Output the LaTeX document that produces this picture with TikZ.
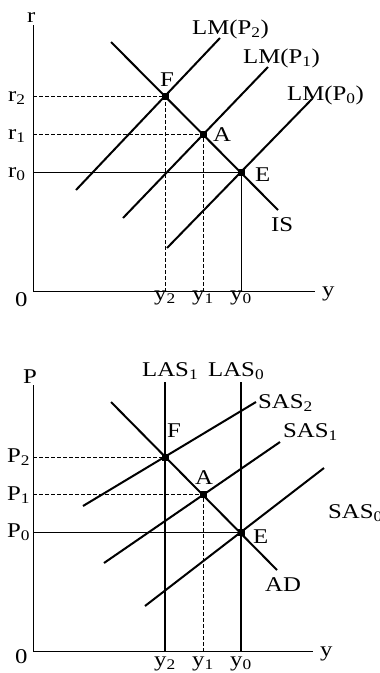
\documentclass[tikz,border=0pt]{standalone}
\usepackage{fontspec}
\setmainfont{Liberation Serif}[FakeStretch=1.18]
\usetikzlibrary{calc}

\begin{document}
\begin{tikzpicture}[x=1pt, y=-1pt, font=\fontsize{21}{25}\selectfont]
			\tikzstyle{curve}=[line width=2pt]
			\tikzstyle{axis}=[line width=1pt]
			\tikzstyle{guide}=[line width=0.9pt]
			\tikzstyle{guidedash}=[line width=0.9pt, dash pattern=on 3.5pt off 2.5pt]
			\tikzstyle{eqpt}=[fill, inner sep=0pt, minimum size=7pt]
			\tikzstyle{lbl}=[inner sep=0pt, anchor=base west]
			\tikzstyle{ylbl}=[inner sep=0pt, anchor=base]

			\useasboundingbox (0,0) rectangle (380,673);

			% IS-LM
			\coordinate (O1) at (33,291);
			\coordinate (Rtop) at (33,25);
			\coordinate (Yend1) at (315,291);
			\node (F1) [eqpt] at (165,96) {};
			\node (A1) [eqpt] at (203,134) {};
			\node (E1) [eqpt] at (241,172) {};

			\draw [axis] (Rtop) -- (O1) -- (Yend1);
			\node (rlab) [lbl] at (27,22) {r};
			\node (zero1) [lbl] at (15,306) {0};
			\node (ylab1) [lbl] at (322,296) {y};

			\draw [guidedash] (O1 |- F1.center) -- (F1.center) -- (F1.center |- O1);
			\draw [guidedash] (O1 |- A1.center) -- (A1.center) -- (A1.center |- O1);
			\draw [guide] (O1 |- E1.center) -- (E1.center) -- (E1.center |- O1);

			\node (r2) [lbl] at (8,101) {r\textsubscript{2}};
			\node (r1) [lbl] at (8,139) {r\textsubscript{1}};
			\node (r0) [lbl] at (8,177) {r\textsubscript{0}};
			\node (y2a) [ylbl] at (165,300) {y\textsubscript{2}};
			\node (y1a) [ylbl] at (203,300) {y\textsubscript{1}};
			\node (y0a) [ylbl] at (241,300) {y\textsubscript{0}};

			\coordinate (IS1) at (111,42);
			\coordinate (IS2) at (278,210);
			\coordinate (LMtwoA) at (76,190);
			\coordinate (LMtwoB) at (220,38);
			\coordinate (LMoneA) at (123,218);
			\coordinate (LMoneB) at (268,67);
			\coordinate (LMzeroA) at (167,248);
			\coordinate (LMzeroB) at (312,99);

			\draw [curve] (IS1) -- (IS2);
			\draw [curve] (LMtwoA) -- (LMtwoB);
			\draw [curve] (LMoneA) -- (LMoneB);
			\draw [curve] (LMzeroA) -- (LMzeroB);

			\node (LMtwo) [lbl] at (192,34) {LM(P\textsubscript{2})};
			\node (LMone) [lbl] at (243,63) {LM(P\textsubscript{1})};
			\node (LMzero) [lbl] at (287,100) {LM(P\textsubscript{0})};
			\node (IS) [lbl] at (271,231) {IS};
			\node (Flab1) [lbl] at (160,86) {F};
			\node (Alab1) [lbl] at (213,141) {A};
			\node (Elab1) [lbl] at (255,181) {E};

			% AD-AS
			\coordinate (O2) at (33,651);
			\coordinate (Ptop) at (33,385);
			\coordinate (Yend2) at (313,651);
			\node (F2) [eqpt] at (165,457) {};
			\node (A2) [eqpt] at (203,494) {};
			\node (E2) [eqpt] at (241,532) {};

			\draw [axis] (Ptop) -- (O2) -- (Yend2);
			\node (Plab) [lbl] at (23,383) {P};
			\node (zero2) [lbl] at (15,663) {0};
			\node (ylab2) [lbl] at (320,656) {y};

			\draw [guidedash] (O2 |- F2.center) -- (F2.center);
			\draw [guidedash] (O2 |- A2.center) -- (A2.center) -- (A2.center |- O2);
			\draw [guide] (O2 |- E2.center) -- (E2.center);

			\node (P2) [lbl] at (7,462) {P\textsubscript{2}};
			\node (P1) [lbl] at (7,500) {P\textsubscript{1}};
			\node (P0) [lbl] at (7,537) {P\textsubscript{0}};
			\node (y2b) [ylbl] at (165,666) {y\textsubscript{2}};
			\node (y1b) [ylbl] at (203,666) {y\textsubscript{1}};
			\node (y0b) [ylbl] at (241,666) {y\textsubscript{0}};

			\coordinate (LASoneT) at (165,382);
			\coordinate (LASzeroT) at (241,382);
			\coordinate (AD1) at (111,402);
			\coordinate (AD2) at (277,570);
			\coordinate (SAStwoA) at (83,506);
			\coordinate (SAStwoB) at (256,402);
			\coordinate (SASoneA) at (104,563);
			\coordinate (SASoneB) at (280,442);
			\coordinate (SASzeroA) at (145,606);
			\coordinate (SASzeroB) at (324,468);

			\draw [curve] (LASoneT) -- (LASoneT |- O2);
			\draw [curve] (LASzeroT) -- (LASzeroT |- O2);
			\draw [curve] (AD1) -- (AD2);
			\draw [curve] (SAStwoA) -- (SAStwoB);
			\draw [curve] (SASoneA) -- (SASoneB);
			\draw [curve] (SASzeroA) -- (SASzeroB);

			\node (LASone) [lbl] at (142,376) {LAS\textsubscript{1}};
			\node (LASzero) [lbl] at (208,376) {LAS\textsubscript{0}};
			\node (SAStwo) [lbl] at (258,408) {SAS\textsubscript{2}};
			\node (SASone) [lbl] at (283,437) {SAS\textsubscript{1}};
			\node (SASzero) [lbl] at (328,518) {SAS\textsubscript{0}};
			\node (AD) [lbl] at (265,591) {AD};
			\node (Flab2) [lbl] at (167,437) {F};
			\node (Alab2) [lbl] at (195,484) {A};
			\node (Elab2) [lbl] at (253,543) {E};
\end{tikzpicture}
\end{document}
